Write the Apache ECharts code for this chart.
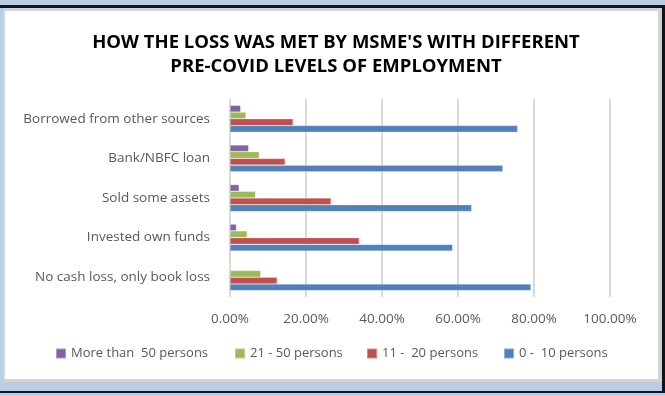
<!DOCTYPE html>
<html>
<head>
<meta charset="utf-8">
<style>
  html, body { margin: 0; padding: 0; background: #b9cde5; }
  #chart { width: 665px; height: 396px; }
</style>
<script src="https://cdn.jsdelivr.net/npm/echarts@6/dist/echarts.min.js"></script>
</head>
<body>
<div id="chart"></div>
<script>
// Categories, listed bottom to top on the vertical axis
const categories = [
  'No cash loss, only book loss',
  'Invested own funds',
  'Sold some assets',
  'Bank/NBFC loan',
  'Borrowed from other sources'
];

// Share of MSMEs (%) by pre-COVID employment size
const personsOver50  = [0, 1.7, 2.4, 4.9, 2.8];
const persons21to50  = [8.1, 4.5, 6.7, 7.7, 4.2];
const persons11to20  = [12.4, 34.0, 26.6, 14.5, 16.6];
const persons0to10   = [79.2, 58.6, 63.6, 71.8, 75.7];

// Series drawn top to bottom inside each category band
const seriesNames = ['More than  50 persons', '21 - 50 persons', '11 -  20 persons', '0 -  10 persons'];
const seriesColors = ['#8064a2', '#9bbb59', '#c0504d', '#4f81bd'];
const seriesValues = [personsOver50, persons21to50, persons11to20, persons0to10];

const xTicks = [0, 20, 40, 60, 80, 100];

const FONT = 'Open Sans, Liberation Sans, sans-serif';

const chart = echarts.init(document.getElementById('chart'), null, { renderer: 'canvas' });

// One legend block per series so each entry sits at its own x position
const legendLeft = [55, 234, 366, 503];
const legends = seriesNames.map((name, i) => ({
  data: [name],
  left: legendLeft[i],
  top: 347,
  padding: 0,
  icon: 'rect',
  itemWidth: 10,
  itemHeight: 10,
  itemGap: 4,
  selectedMode: false,
  textStyle: { fontFamily: FONT, fontSize: 13, color: '#595959' }
}));

chart.setOption({
  animation: false,
  backgroundColor: '#b9cde5',
  graphic: [
    // dark rules of the outer frame
    { type: 'rect', shape: { x: 0, y: 5, width: 665, height: 3 }, style: { fill: '#10151c' }, z: 0 },
    { type: 'rect', shape: { x: 662, y: 5, width: 3, height: 388 }, style: { fill: '#10151c' }, z: 0 },
    { type: 'rect', shape: { x: 0, y: 391, width: 665, height: 2 }, style: { fill: '#10151c' }, z: 0 },
    // light grey edge and white chart panel
    { type: 'rect', shape: { x: 3, y: 8, width: 658, height: 374 }, style: { fill: '#d4d4d4' }, z: 0 },
    { type: 'rect', shape: { x: 5, y: 11, width: 653, height: 368 }, style: { fill: '#ffffff' }, z: 0 }
  ],
  title: {
    text: "HOW THE LOSS WAS MET BY MSME'S WITH DIFFERENT\nPRE-COVID LEVELS OF EMPLOYMENT",
    left: 331,
    textAlign: 'center',
    top: 26,
    textStyle: { fontFamily: FONT, fontSize: 18.5, fontWeight: 'bold', color: '#000000', lineHeight: 24 }
  },
  legend: legends,
  grid: { left: 230, right: 55, top: 99, bottom: 99, containLabel: false },
  xAxis: {
    type: 'value',
    min: xTicks[0],
    max: xTicks[xTicks.length - 1],
    interval: 20,
    axisLine: { show: false },
    axisTick: { show: false },
    splitLine: { lineStyle: { color: '#d9d9d9', width: 2 } },
    axisLabel: {
      margin: 15,
      fontFamily: FONT, fontSize: 13.5, color: '#595959',
      formatter: v => v.toFixed(2) + '%'
    }
  },
  yAxis: {
    type: 'category',
    data: categories,
    axisLine: { show: false },
    axisTick: { show: false },
    axisLabel: { margin: 20, fontFamily: FONT, fontSize: 13.5, color: '#595959' }
  },
  series: seriesValues.map((vals, i) => ({
    name: seriesNames[i],
    type: 'bar',
    data: vals,
    barGap: '0%',
    barCategoryGap: '32%',
    itemStyle: { color: seriesColors[i], borderColor: 'rgba(255,255,255,0.35)', borderWidth: 0.6 }
  }))
});
</script>
</body>
</html>
